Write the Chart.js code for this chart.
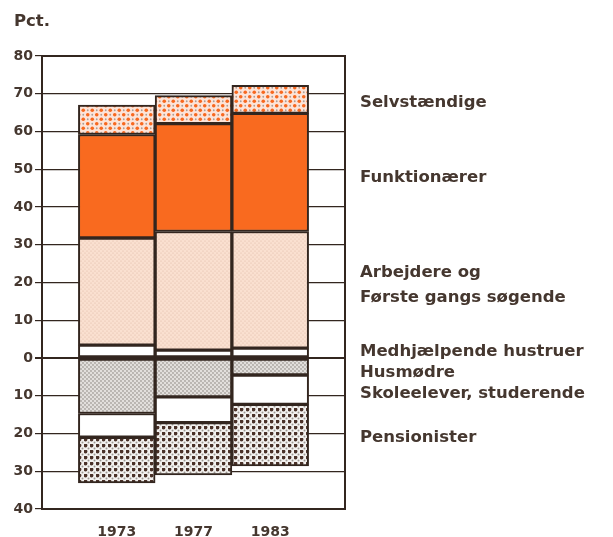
<!DOCTYPE html>
<html>
<head>
<meta charset="utf-8">
<script src="https://cdn.jsdelivr.net/npm/chart.js@4"></script>
<style>
  html, body { margin: 0; padding: 0; background: #ffffff; }
  #wrap { width: 613px; height: 537px; position: relative; }
</style>
</head>
<body>
<div id="wrap"><canvas id="chart" width="613" height="537"></canvas></div>
<script>
// Data (pct.)
const aar = ["1973", "1977", "1983"];
const medhjaelpende = [3.4, 2.1, 2.6];
const arbejdere     = [28.4, 31.4, 30.9];
const funktionaerer = [27.4, 28.6, 31.3];
const selvstaendige = [7.8, 7.4, 7.4];
const husmoedre     = [-14.7, -10.3, -4.5];
const skoleelever   = [-6.3, -6.8, -7.8];
const pensionister  = [-12.1, -13.9, -16.3];

const serieNavne = [
  ["Selvstændige"],
  ["Funktionærer"],
  ["Arbejdere og", "Første gangs søgende"],
  ["Medhjælpende hustruer"],
  ["Husmødre"],
  ["Skoleelever, studerende"],
  ["Pensionister"]
];

const tekstFarve = "#45372f";
const stregFarve = "#33261f";
const fontNavn = "'DejaVu Sans', 'Open Sans', sans-serif";

// Mønstre til søjlerne
function lavMoenster(size, bg, prikker) {
  const c = document.createElement("canvas");
  c.width = size; c.height = size;
  const g = c.getContext("2d");
  g.fillStyle = bg;
  g.fillRect(0, 0, size, size);
  prikker.forEach(p => {
    g.fillStyle = p.farve;
    g.beginPath();
    g.arc(p.x, p.y, p.r, 0, Math.PI * 2);
    g.fill();
  });
  return g.createPattern(c, "repeat");
}

const moenstSelv = lavMoenster(9, "#fde4d8", [
  { x: 2.25, y: 2.25, r: 1.8, farve: "#f7681f" },
  { x: 6.75, y: 6.75, r: 1.8, farve: "#f7681f" },
  { x: 6.75, y: 2.25, r: 0.9, farve: "#a99f98" },
  { x: 2.25, y: 6.75, r: 0.9, farve: "#a99f98" }
]);
const moenstArb = lavMoenster(4, "#fae0d0", [
  { x: 1, y: 1, r: 0.6, farve: "#dbb7a5" },
  { x: 3, y: 3, r: 0.6, farve: "#dbb7a5" }
]);
const moenstHusm = lavMoenster(4, "#e2dfdc", [
  { x: 1, y: 1, r: 0.9, farve: "#a8a39e" },
  { x: 3, y: 3, r: 0.9, farve: "#a8a39e" }
]);
const moenstPens = lavMoenster(6, "#f3f1ef", [
  { x: 1.5, y: 1.5, r: 1.9, farve: "#4a3128" },
  { x: 4.5, y: 4.5, r: 1.0, farve: "#9c9792" }
]);

function punkter(arr) {
  return arr.map((v, i) => ({ x: i, y: v }));
}

function datasaet(label, arr, fyld) {
  return {
    label: label,
    data: punkter(arr),
    backgroundColor: fyld,
    borderColor: stregFarve,
    borderWidth: 2,
    borderSkipped: false,
    barPercentage: 1.0,
    categoryPercentage: 1.0
  };
}

// Ramme, navne til højre og "Pct."
const tekstPlugin = {
  id: "tekster",
  afterDraw(chart) {
    const ctx = chart.ctx;
    const a = chart.chartArea;
    ctx.save();
    ctx.strokeStyle = stregFarve;
    ctx.lineWidth = 2;
    ctx.strokeRect(a.left, a.top, a.right - a.left, a.bottom - a.top);

    ctx.fillStyle = tekstFarve;
    ctx.font = "bold 16.5px " + fontNavn;
    ctx.textBaseline = "middle";
    ctx.textAlign = "left";
    ctx.fillText("Pct.", 14, 22);

    const ys = [103, 178, 273, 352, 373, 394, 438];
    serieNavne.forEach((linjer, i) => {
      linjer.forEach((t, j) => {
        ctx.fillText(t, 360, ys[i] + j * 25);
      });
    });
    ctx.restore();
  }
};

new Chart(document.getElementById("chart"), {
  type: "bar",
  data: {
    datasets: [
      datasaet("Medhjælpende hustruer", medhjaelpende, "#ffffff"),
      datasaet("Arbejdere og første gangs søgende", arbejdere, moenstArb),
      datasaet("Funktionærer", funktionaerer, "#f96a1f"),
      datasaet("Selvstændige", selvstaendige, moenstSelv),
      datasaet("Husmødre", husmoedre, moenstHusm),
      datasaet("Skoleelever, studerende", skoleelever, "#ffffff"),
      datasaet("Pensionister", pensionister, moenstPens)
    ]
  },
  options: {
    responsive: false,
    animation: false,
    layout: { padding: { top: 56, right: 268, left: 0, bottom: 0 } },
    plugins: {
      legend: { display: false },
      tooltip: { enabled: false }
    },
    scales: {
      x: {
        type: "linear",
        stacked: true,
        offset: false,
        min: -0.974,
        max: 2.974,
        afterBuildTicks(scale) {
          scale.ticks = aar.map((_, i) => ({ value: i }));
        },
        afterFit(scale) { scale.height = 28; },
        grid: { display: false },
        border: { display: false },
        ticks: {
          autoSkip: false,
          maxRotation: 0,
          padding: 7,
          color: tekstFarve,
          font: { family: fontNavn, size: 14, weight: "bold" },
          callback: v => aar[v] || ""
        }
      },
      y: {
        stacked: true,
        min: -40,
        max: 80,
        afterFit(scale) { scale.width = 42; },
        border: { display: true, color: stregFarve, width: 2 },
        grid: {
          color: stregFarve,
          lineWidth: c => (c.tick && c.tick.value === 0 ? 2 : 1.2),
          tickLength: 7
        },
        ticks: {
          stepSize: 10,
          padding: 2,
          color: tekstFarve,
          font: { family: fontNavn, size: 14, weight: "bold" },
          callback: v => String(Math.abs(v))
        }
      }
    }
  },
  plugins: [tekstPlugin]
});
</script>
</body>
</html>
